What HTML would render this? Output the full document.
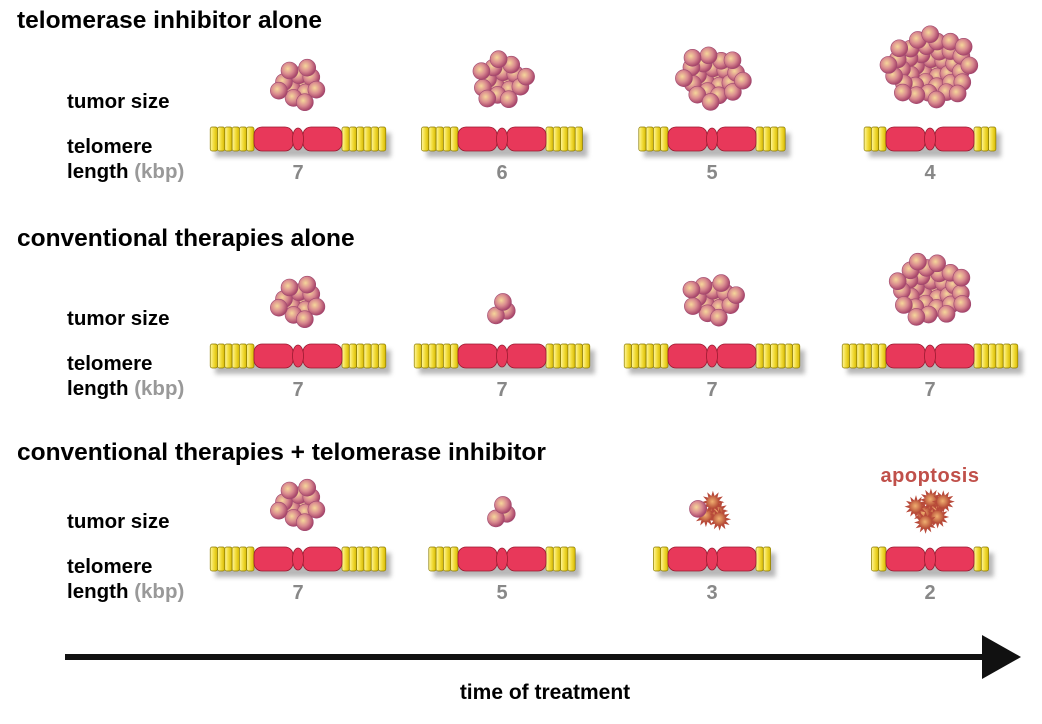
<!DOCTYPE html>
<html><head><meta charset="utf-8">
<style>
html,body{margin:0;padding:0;background:#fff;}
svg{display:block;}
text{font-family:"Liberation Sans",Arial,sans-serif;font-weight:bold;}
</style></head>
<body>
<svg id="fig" width="1042" height="724" viewBox="0 0 1042 724" xmlns="http://www.w3.org/2000/svg">
<defs>
<radialGradient id="cellG" cx="40%" cy="40%" r="60%">
<stop offset="0" stop-color="#f6d79a"/><stop offset="0.55" stop-color="#d98a8f"/><stop offset="1" stop-color="#a8456a"/>
</radialGradient>
<radialGradient id="apoG" cx="45%" cy="45%" r="60%">
<stop offset="0" stop-color="#f0b070"/><stop offset="1" stop-color="#b04030"/>
</radialGradient>
<linearGradient id="yelG" x1="0" x2="1" y1="0" y2="0">
<stop offset="0" stop-color="#fff6a0"/><stop offset="0.5" stop-color="#f2dc3a"/><stop offset="1" stop-color="#d6b800"/>
</linearGradient>
<filter id="sh" x="-10%" y="-30%" width="130%" height="190%"><feGaussianBlur stdDeviation="2.5"/></filter>
</defs>
<g id="static">
<text x="17" y="28" font-size="24.5">telomerase inhibitor alone</text>
<text x="17" y="246" font-size="24.5">conventional therapies alone</text>
<text x="17" y="460" font-size="24.5">conventional therapies + telomerase inhibitor</text>
<text x="930" y="482" font-size="20" fill="#c0504a" text-anchor="middle" style="letter-spacing:0.5px">apoptosis</text>
<line x1="65" y1="657" x2="985" y2="657" stroke="#111" stroke-width="6"/>
<polygon points="982,635 1021,657 982,679" fill="#111"/>
<text x="545" y="699" font-size="21" text-anchor="middle">time of treatment</text>
</g>
<g id="dyn"></g>
</svg>
<script>
const columns = [298, 502, 712, 930];
const rowTumorCells = [[12,16,22,40],[12,3,14,30],[12,3,5,7]];
const rowApoptotic = [[0,0,0,0],[0,0,0,0],[0,0,4,7]];
const rowTelomere = [[7,6,5,4],[7,7,7,7],[7,5,3,2]];
const rowY = [0, 217, 420];
const NS = "http://www.w3.org/2000/svg";
const g = document.getElementById('dyn');
function mk(tag, attrs, parent){const e=document.createElementNS(NS,tag);for(const k in attrs)e.setAttribute(k,attrs[k]);(parent||g).appendChild(e);return e;}
function stripes(v){return Math.max(2, v-1);}
function cluster(cx, bottom, n, apo){
  const grp = mk('g',{});
  
  
  const r=8.5, step=5.6;
  const spread = step*Math.sqrt(n);
  const cy = bottom - spread - r + 4;
  const pts=[];
  for(let i=0;i<n;i++){const rr=step*Math.sqrt(i+0.5); const a=i*2.39996; pts.push([cx+rr*Math.cos(a)*1.2, cy+rr*Math.sin(a)]);}
  pts.forEach((p,i)=>{
    const isApo = i < apo;
    if(isApo){
      let d='';
      for(let k=0;k<24;k++){const a=k*Math.PI/12; const R=(k%2?r*0.75:r*1.35); d+=(k?'L':'M')+(p[0]+R*Math.cos(a)).toFixed(1)+','+(p[1]+R*Math.sin(a)).toFixed(1);}
      mk('path',{d:d+'Z',fill:'#b84a3a'},grp);
      mk('circle',{cx:p[0],cy:p[1],r:r*0.75,fill:'url(#apoG)'},grp);
    } else {
      mk('circle',{cx:p[0],cy:p[1],r:r,fill:'url(#cellG)',stroke:'#a04a70','stroke-width':0.6},grp);
    }
  });
}
function chromosome(cx, cy, v){
  const grp = mk('g',{});
  
  
  const n=stripes(v), sw=7.3, bodyW=88, h=24;
  const total = bodyW + 2*n*sw;
  const x0 = cx - total/2;
  mk('rect',{x:x0+5,y:cy-h/2+6,width:total,height:h,fill:'#888',opacity:0.6,filter:'url(#sh)'},grp);
  for(let s=0;s<n;s++){
    mk('rect',{x:x0+s*sw,y:cy-h/2,width:sw,height:h,rx:2,fill:'url(#yelG)',stroke:'#8a7a00','stroke-width':0.7},grp);
    mk('rect',{x:cx+bodyW/2+s*sw,y:cy-h/2,width:sw,height:h,rx:2,fill:'url(#yelG)',stroke:'#8a7a00','stroke-width':0.7},grp);
  }
  const bx = cx-bodyW/2;
  mk('rect',{x:bx,y:cy-h/2,width:39,height:h,rx:8,fill:'#e8385a',stroke:'#9a1a30','stroke-width':0.8},grp);
  mk('rect',{x:bx+49,y:cy-h/2,width:39,height:h,rx:8,fill:'#e8385a',stroke:'#9a1a30','stroke-width':0.8},grp);
  mk('ellipse',{cx:cx,cy:cy,rx:5.5,ry:h/2-1,fill:'#e8385a',stroke:'#9a1a30','stroke-width':0.8},grp);
}
rowTumorCells.forEach((cells,ri)=>{
  const oy=rowY[ri];
  let t=mk('text',{x:67,y:oy+108,'font-size':20.5});t.textContent='tumor size';
  
  
  t=mk('text',{x:67,y:oy+153,'font-size':20.5});t.textContent='telomere';
  
  
  t=mk('text',{x:67,y:oy+178,'font-size':20.5});t.innerHTML='length <tspan fill="#999">(kbp)</tspan>';
  
  
  cells.forEach((n,ci)=>{
    const cx=columns[ci];
    cluster(cx, oy+108, n, rowApoptotic[ri][ci]);
    chromosome(cx, oy+139, rowTelomere[ri][ci]);
    const lab=mk('text',{x:cx,y:oy+179,'font-size':20,'text-anchor':'middle',fill:'#888'});
    lab.textContent=rowTelomere[ri][ci];
    
    
  });
});
</script>
</body></html>
